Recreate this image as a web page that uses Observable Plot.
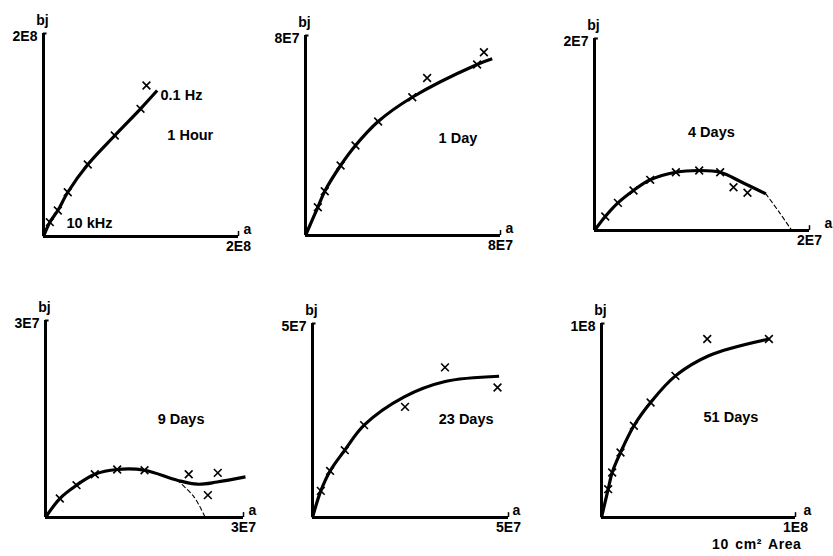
<!DOCTYPE html>
<html>
<head>
<meta charset="utf-8">
<script src="https://cdn.jsdelivr.net/npm/d3@7"></script>
<script src="https://cdn.jsdelivr.net/npm/@observablehq/plot@0.6"></script>
<style>
  html, body { margin: 0; padding: 0; background: #fff; }
  #chart { position: relative; width: 833px; height: 556px; overflow: hidden;
           font-family: "Liberation Sans", Arial, Helvetica, sans-serif; }
  #chart svg { position: absolute; overflow: visible; max-width: none; }
  .caption { position: absolute; font-size: 14px; line-height: 14px; font-weight: bold; color: #000; white-space: nowrap;
             letter-spacing: 0.6px; word-spacing: 2px; }
</style>
</head>
<body>
<div id="chart"></div>
<script>
// ---------------- data ----------------
const panelTitles = ["1 Hour", "1 Day", "4 Days", "9 Days", "23 Days", "51 Days"];
const axisMax = [2e8, 8e7, 2e7, 3e7, 5e7, 1e8];
const axisMaxLabels = ["2E8", "8E7", "2E7", "3E7", "5E7", "1E8"];
const yAxisLabel = "bj";
const xAxisLabel = "a";
const captionText = "10 cm² Area";

// measured points [a, bj]
const hour1Points = [[6.5e6, 1.41e7], [1.47e7, 2.56e7], [2.49e7, 4.36e7], [4.54e7, 7.09e7], [7.31e7, 9.95e7], [9.95e7, 1.258e8], [1.056e8, 1.488e8]];
const day1Points = [[5.06e6, 1.13e7], [7.9e6, 1.77e7], [1.44e7, 2.8e7], [2.05e7, 3.6e7], [2.98e7, 4.56e7], [4.38e7, 5.53e7], [7.04e7, 6.84e7], [4.99e7, 6.3e7], [7.32e7, 7.33e7]];
const day4Points = [[1.0e6, 1.46e6], [2.18e6, 2.88e6], [3.63e6, 4.17e6], [5.18e6, 5.28e6], [7.57e6, 6.07e6], [9.74e6, 6.25e6], [1.169e7, 6.07e6], [1.293e7, 4.51e6], [1.423e7, 3.93e6]];
const day9Points = [[2.17e6, 2.89e6], [4.7e6, 4.92e6], [7.47e6, 6.59e6], [1.086e7, 7.31e6], [1.5e7, 7.2e6], [2.17e7, 6.59e6], [2.61e7, 6.79e6], [2.46e7, 3.4e6]];
const day23Points = [[2.12e6, 6.86e6], [4.49e6, 1.2e7], [8.24e6, 1.735e7], [1.316e7, 2.38e7], [2.36e7, 2.85e7], [3.38e7, 3.87e7], [4.72e7, 3.35e7]];
const day51Points = [[3.44e6, 1.46e7], [5.5e6, 2.32e7], [9.8e6, 3.35e7], [1.67e7, 4.73e7], [2.53e7, 5.93e7], [3.81e7, 7.3e7], [8.63e7, 9.2e7], [5.45e7, 9.2e7]];

// fitted curves [a, bj]
const hour1Fit = [[0, 0], [6.5e6, 1.41e7], [1.47e7, 2.56e7], [2.49e7, 4.36e7], [4.54e7, 7.09e7], [7.31e7, 9.95e7], [9.95e7, 1.258e8], [1.166e8, 1.438e8]];
const day1Fit = [[0, 0], [5.06e6, 1.13e7], [7.9e6, 1.77e7], [1.44e7, 2.8e7], [2.05e7, 3.6e7], [2.98e7, 4.56e7], [4.38e7, 5.53e7], [7.04e7, 6.84e7], [7.66e7, 7.07e7]];
const day4Fit = [[0, 0], [1.0e6, 1.46e6], [2.18e6, 2.88e6], [3.63e6, 4.17e6], [5.18e6, 5.28e6], [7.57e6, 6.07e6], [9.74e6, 6.25e6], [1.169e7, 6.07e6], [1.371e7, 5.03e6], [1.594e7, 3.82e6]];
const day9Fit = [[0, 0], [2.17e6, 2.89e6], [4.7e6, 4.92e6], [7.47e6, 6.59e6], [1.086e7, 7.31e6], [1.5e7, 7.2e6], [1.995e7, 5.68e6], [2.3e7, 5.07e6], [2.6e7, 5.4e6], [3.03e7, 6.18e6]];
const day23Fit = [[0, 0], [2.12e6, 6.86e6], [4.49e6, 1.2e7], [8.24e6, 1.735e7], [1.316e7, 2.38e7], [2.34e7, 3.11e7], [3.36e7, 3.5e7], [4.76e7, 3.64e7]];
const day51Fit = [[0, 0], [3.44e6, 1.46e7], [5.5e6, 2.32e7], [9.8e6, 3.35e7], [1.67e7, 4.73e7], [2.53e7, 5.93e7], [3.81e7, 7.3e7], [5.53e7, 8.34e7], [8.63e7, 9.2e7]];

// dashed extrapolations [a, bj]
const day4Dash = [[1.594e7, 3.82e6], [1.718e7, 1.91e6], [1.836e7, 0]];
const day9Dash = [[1.995e7, 5.68e6], [2.25e7, 3.14e6], [2.42e7, 0]];

// annotations [panel, a, bj, text]
const annotations = [
  [0, 1.2e8, 1.39e8, "0.1 Hz"],
  [0, 1.27e8, 9.95e7, "1 Hour"],
  [0, 2.36e7, 1.28e7, "10 kHz"],
  [1, 5.46e7, 3.88e7, "1 Day"],
  [2, 8.7e6, 1.02e7, "4 Days"],
  [3, 1.7e7, 1.5e7, "9 Days"],
  [4, 3.22e7, 2.53e7, "23 Days"],
  [5, 5.26e7, 5.14e7, "51 Days"]
];

const allPoints = [hour1Points, day1Points, day4Points, day9Points, day23Points, day51Points];
const allFits = [hour1Fit, day1Fit, day4Fit, day9Fit, day23Fit, day51Fit];
const allDashes = [[], [], day4Dash, day9Dash, [], []];

// ---------------- layout (pixel frame of each panel: left, right, top, bottom) ----------------
const frames = [
  [43, 238, 33, 236],
  [305, 500, 35, 235],
  [594, 809, 38, 230],
  [45, 243, 320, 517],
  [312, 508, 323, 517],
  [601, 795, 323, 517]
];
const aLabelOffset = [9, 9, 19, 9, 8, 12];

const FONT = '"Liberation Sans", Arial, Helvetica, sans-serif';
const chart = document.getElementById("chart");
const X = d => d[0], Y = d => d[1];

frames.forEach((f, i) => {
  const [L, R, T, B] = f;
  const ml = 50, mr = 50, mt = 40, mb = 35;
  const max = axisMax[i];
  const ann = annotations.filter(d => d[0] === i);
  const plot = Plot.plot({
    width: R - L + ml + mr,
    height: B - T + mt + mb,
    marginLeft: ml, marginRight: mr, marginTop: mt, marginBottom: mb,
    x: {domain: [0, max], axis: null},
    y: {domain: [0, max], axis: null},
    style: {fontFamily: FONT, fontSize: "14px", fontWeight: "bold", color: "black", background: "transparent", overflow: "visible"},
    marks: [
      Plot.ruleY([0], {stroke: "black", strokeWidth: 3}),
      Plot.ruleX([0], {stroke: "black", strokeWidth: 3}),
      Plot.ruleY([max], {x1: 0, x2: max * 0.018, stroke: "black", strokeWidth: 2}),
      Plot.ruleX([max], {y1: 0, y2: max * 0.025, stroke: "black", strokeWidth: 1.5}),
      Plot.line(allDashes[i], {x: X, y: Y, stroke: "black", strokeWidth: 1.1, strokeDasharray: "4,3", curve: "catmull-rom"}),
      Plot.line(allFits[i], {x: X, y: Y, stroke: "black", strokeWidth: 3.2, curve: "catmull-rom", strokeLinecap: "butt"}),
      Plot.dot(allPoints[i], {x: X, y: Y, symbol: "times", r: 3.6, stroke: "black", strokeWidth: 1.6}),
      Plot.text([axisMaxLabels[i]], {x: [0], y: [max], text: d => d, textAnchor: "end", dx: -6, dy: 3, fill: "black"}),
      Plot.text([axisMaxLabels[i]], {x: [max], y: [0], text: d => d, textAnchor: "middle", dy: 10, fill: "black"}),
      Plot.text([yAxisLabel], {x: [0], y: [max], text: d => d, textAnchor: "middle", dx: -1, dy: -13, fill: "black"}),
      Plot.text([xAxisLabel], {x: [max], y: [0], text: d => d, textAnchor: "middle", dx: aLabelOffset[i], dy: -7, fill: "black"}),
      Plot.text(ann, {x: d => d[1], y: d => d[2], text: d => d[3], textAnchor: "start", fontSize: 14.5, fill: "black"})
    ]
  });
  plot.style.left = (L - ml) + "px";
  plot.style.top = (T - mt) + "px";
  chart.appendChild(plot);
});

const cap = document.createElement("div");
cap.className = "caption";
cap.style.left = "712px";
cap.style.top = "537px";
cap.textContent = captionText;
chart.appendChild(cap);
</script>
</body>
</html>
